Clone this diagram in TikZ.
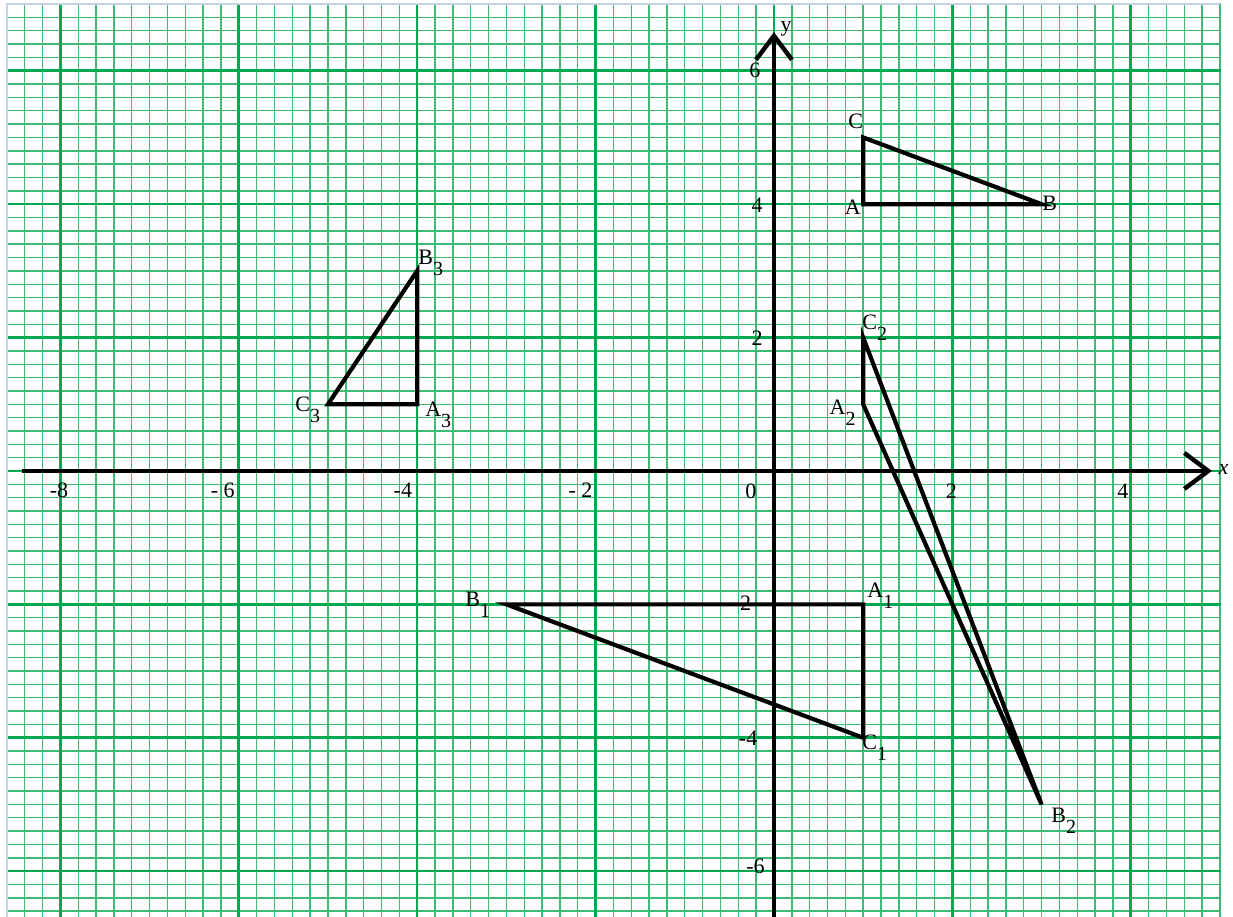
\documentclass[tikz,border=0pt]{standalone}
\usepackage{fontspec}
\setmainfont{Liberation Serif}
\usetikzlibrary{arrows.meta}
\definecolor{gridMinor}{HTML}{3DBB74}
\definecolor{gridMajor}{HTML}{00A850}
\definecolor{frameBlue}{HTML}{C8D2E6}
\newcommand{\vtx}[2]{#1\raisebox{-5.5pt}{\fontsize{10}{12}\selectfont #2}}

\begin{document}
\begin{tikzpicture}[x=44.6pt, y=33.35pt,
    every node/.style={font=\fontsize{11}{13}\selectfont, inner sep=0pt},
    minorgrid/.style={draw=gridMinor, line width=0.7pt},
    majorgrid/.style={draw=gridMajor, line width=1.3pt},
    axis/.style={line width=2.2pt,
                 -{Straight Barb[length=12pt, width=18pt]}},
    tri/.style={line width=2.1pt, line join=miter},
    vlab/.style={anchor=base west},
    tick/.style={anchor=center}]
  \useasboundingbox (-8.677,-6.687) rectangle (5.146,7.061);
  \fill[white] (-8.677,-6.687) rectangle (5.146,7.061);
  \draw[minorgrid] (-8.6,-6.687) grid[step=0.2] (5.01,7.01);
  \draw[majorgrid] (-8.6,-6.687) grid[step=2] (5.01,7.01);
  \draw[frameBlue, line width=0.8pt] (-8.6,-6.687) -- (-8.6,7) -- (5,7);

  \coordinate (xs) at (-8.43,0);
  \coordinate (xe) at (4.91,0);
  \coordinate (ys) at (0,-6.687);
  \coordinate (ye) at (0,6.58);
  \draw[axis] (xs) -- (xe);
  \draw[axis] (ys) -- (ye);
  \node (xlab) at (5.04,0.02) {\textit{x}};
  \node (ylab) at (0.135,6.63) {y};

  \node[tick] (xm8) at (-8.016,-0.285) {-8};
  \node[tick] (xm6) at (-6.18,-0.285)  {- 6};
  \node[tick] (xm4) at (-4.16,-0.285)  {-4};
  \node[tick] (xm2) at (-2.17,-0.285)  {- 2};
  \node[tick] (x0)  at (-0.26,-0.31)   {0};
  \node[tick] (x2)  at (1.99,-0.31)    {2};
  \node[tick] (x4)  at (3.91,-0.31)    {4};
  \node[tick] (y6)  at (-0.213,6.01)   {6};
  \node[tick] (y4)  at (-0.19,3.99)    {4};
  \node[tick] (y2)  at (-0.19,1.99)    {2};
  \node[tick] (ym2) at (-0.36,-1.98)   {-2};
  \node[tick] (ym4) at (-0.29,-4.0)    {-4};
  \node[tick] (ym6) at (-0.207,-5.93)  {-6};

  \coordinate (A)  at (1,4);
  \coordinate (B)  at (3,4);
  \coordinate (C)  at (1,5);
  \coordinate (A1) at (1,-2);
  \coordinate (B1) at (-3,-2);
  \coordinate (C1) at (1,-4);
  \coordinate (A2) at (1,1);
  \coordinate (B2) at (3,-5);
  \coordinate (C2) at (1,2);
  \coordinate (A3) at (-4,1);
  \coordinate (B3) at (-4,3);
  \coordinate (C3) at (-5,1);
  \draw[tri] (A) -- (B) -- (C) -- cycle;
  \draw[tri] (A1) -- (B1) -- (C1) -- cycle;
  \draw[tri] (A2) -- (B2) -- (C2) -- cycle;
  \draw[tri] (A3) -- (B3) -- (C3) -- cycle;

  \node[vlab] (lC)  at (0.83,5.127)    {C};
  \node[vlab] (lA)  at (0.79,3.838)    {A};
  \node[vlab] (lB)  at (3.004,3.898)   {B};
  \node[vlab] (lB3) at (-3.991,3.088)  {\vtx{B}{3}};
  \node[vlab] (lA3) at (-3.913,0.810)  {\vtx{A}{3}};
  \node[vlab] (lC3) at (-5.370,0.885)  {\vtx{C}{3}};
  \node[vlab] (lC2) at (0.987,2.114)   {\vtx{C}{2}};
  \node[vlab] (lA2) at (0.62,0.840)    {\vtx{A}{2}};
  \node[vlab] (lA1) at (1.043,-1.904)  {\vtx{A}{1}};
  \node[vlab] (lC1) at (0.987,-4.183)  {\vtx{C}{1}};
  \node[vlab] (lB1) at (-3.464,-2.039) {\vtx{B}{1}};
  \node[vlab] (lB2) at (3.105,-5.277)  {\vtx{B}{2}};
\end{tikzpicture}
\end{document}
